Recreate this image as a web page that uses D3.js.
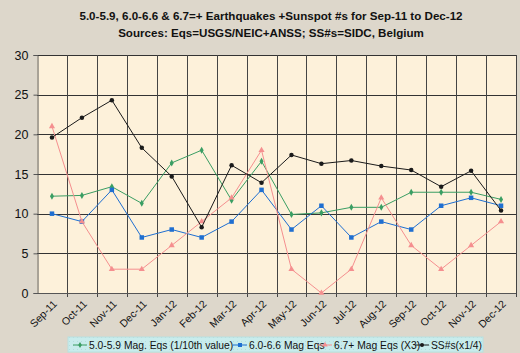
<!DOCTYPE html>
<html>
<head>
<meta charset="utf-8">
<script src="https://cdn.jsdelivr.net/npm/d3@7"></script>
<style>
  body { margin: 0; background: #ddd7cb; }
  svg { display: block; font-family: Arial, "Liberation Sans", sans-serif; }
</style>
</head>
<body>
<script>
// The svg
var width = 520;
var height = 353;

// data
var months = ["Sep-11", "Oct-11", "Nov-11", "Dec-11", "Jan-12", "Feb-12", "Mar-12", "Apr-12",
              "May-12", "Jun-12", "Jul-12", "Aug-12", "Sep-12", "Oct-12", "Nov-12", "Dec-12"];
var mag50 = [12.2, 12.3, 13.4, 11.3, 16.4, 18.0, 11.7, 16.6, 9.9, 10.1, 10.8, 10.8, 12.7, 12.7, 12.7, 11.8];
var mag60 = [10, 9, 13, 7, 8, 7, 9, 13, 8, 11, 7, 9, 8, 11, 12, 11];
var mag67 = [21, 9, 3, 3, 6, 9, 12, 18, 3, 0, 3, 12, 6, 3, 6, 9];
var sunspots = [19.6, 22.1, 24.3, 18.3, 14.7, 8.3, 16.1, 13.9, 17.4, 16.3, 16.7, 16.0, 15.5, 13.4, 15.4, 10.4];
var yTicks = [0, 5, 10, 15, 20, 25, 30];

var seriesList = [
  { name: "5.0-5.9 Mag. Eqs (1/10th value)", values: mag50, color: "#3a9e63", shape: "diamond" },
  { name: "6.0-6.6 Mag Eqs", values: mag60, color: "#1f6fd1", shape: "square" },
  { name: "6.7+ Mag Eqs (X3)", values: mag67, color: "#f58f8f", shape: "triangle" },
  { name: "SS#s(x1/4)", values: sunspots, color: "#1a1a1a", shape: "circle" }
];

var plot = { left: 37, top: 55, right: 516, bottom: 293 };

var svg = d3.select("body").append("svg")
    .attr("width", width)
    .attr("height", height);

// dotted legend fill
var defs = svg.append("defs");
var pat = defs.append("pattern").attr("id", "dots").attr("width", 4).attr("height", 4)
    .attr("patternUnits", "userSpaceOnUse");
pat.append("rect").attr("width", 4).attr("height", 4).attr("fill", "#c8ecec");
pat.append("rect").attr("x", 1).attr("y", 1).attr("width", 1).attr("height", 1).attr("fill", "#b3dede");

svg.append("rect").attr("width", width).attr("height", height).attr("fill", "#ddd7cb");

// title
svg.append("text").attr("x", 271).attr("y", 20).attr("text-anchor", "middle")
    .attr("font-size", "11.6px").attr("font-weight", "bold").attr("fill", "#111")
    .text("5.0-5.9, 6.0-6.6 & 6.7=+ Earthquakes +Sunspot #s for Sep-11 to Dec-12");
svg.append("text").attr("x", 271).attr("y", 37).attr("text-anchor", "middle")
    .attr("font-size", "11.6px").attr("font-weight", "bold").attr("fill", "#111")
    .text("Sources: Eqs=USGS/NEIC+ANSS; SS#s=SIDC, Belgium");

// scales
var x = d3.scaleBand().domain(months).range([plot.left, plot.right]);
var y = d3.scaleLinear().domain([0, 30]).range([plot.bottom, plot.top]);

// plot area
svg.append("rect")
    .attr("x", plot.left).attr("y", plot.top)
    .attr("width", plot.right - plot.left).attr("height", plot.bottom - plot.top)
    .attr("fill", "#fdf1da");

// grid lines
svg.append("g").selectAll("line")
    .data(yTicks)
    .join("line")
    .attr("x1", plot.left).attr("x2", plot.right)
    .attr("y1", d => Math.round(y(d)) + 0.5).attr("y2", d => Math.round(y(d)) + 0.5)
    .attr("stroke", "#333").attr("stroke-width", 1);

var bounds = months.map(m => x(m)).concat([plot.right]);
svg.append("g").selectAll("line")
    .data(bounds.slice(1))
    .join("line")
    .attr("x1", d => Math.round(d) + 0.5).attr("x2", d => Math.round(d) + 0.5)
    .attr("y1", plot.top).attr("y2", plot.bottom + 4)
    .attr("stroke", "#444").attr("stroke-width", 1);

// axes
var yAxis = svg.append("g")
    .attr("transform", "translate(" + (plot.left + 0.5) + ",0)")
    .call(d3.axisLeft(y).tickValues(yTicks).tickSize(4).tickPadding(5));
yAxis.select(".domain").attr("stroke", "#555");
yAxis.selectAll("line").attr("stroke", "#555");
yAxis.selectAll("text").attr("font-size", "12.5px").attr("fill", "#111")
    .attr("font-family", "Arial, 'Liberation Sans', sans-serif");

svg.append("line")
    .attr("x1", plot.left).attr("x2", plot.right)
    .attr("y1", plot.bottom + 0.5).attr("y2", plot.bottom + 0.5)
    .attr("stroke", "#555");

svg.append("g").selectAll("text")
    .data(months)
    .join("text")
    .attr("transform", d => "translate(" + (x(d) + x.bandwidth() / 2 + 3) + "," + (plot.bottom + 9) + ") rotate(-45)")
    .attr("text-anchor", "end")
    .attr("dy", "0.35em")
    .attr("font-size", "10.5px")
    .attr("fill", "#111")
    .text(d => d);

// marker drawing
function drawMarker(g, shape, color, size) {
    if (shape === "circle") {
        g.append("circle").attr("r", size * 0.5).attr("fill", color);
    } else if (shape === "square") {
        g.append("rect").attr("x", -size / 2).attr("y", -size / 2)
            .attr("width", size).attr("height", size).attr("fill", color);
    } else if (shape === "diamond") {
        g.append("path").attr("d", d3.symbol(d3.symbolDiamond, size * size * 0.7)()).attr("fill", color);
    } else {
        g.append("path").attr("d", d3.symbol(d3.symbolTriangle, size * size * 0.8)()).attr("fill", color);
    }
}

var line = d3.line()
    .x((d, i) => x(months[i]) + x.bandwidth() / 2)
    .y(d => y(d));

seriesList.forEach(function (s) {
    svg.append("path")
        .datum(s.values)
        .attr("fill", "none")
        .attr("stroke", s.color)
        .attr("stroke-width", 1)
        .attr("d", line);
    s.values.forEach(function (v, i) {
        var g = svg.append("g")
            .attr("transform", "translate(" + (x(months[i]) + x.bandwidth() / 2) + "," + y(v) + ")");
        drawMarker(g, s.shape, s.color, 4.5);
    });
});

// legend
var legend = svg.append("g");
legend.append("rect")
    .attr("x", 68).attr("y", 337).attr("width", 415).attr("height", 15)
    .attr("fill", "url(#dots)").attr("stroke", "#b9e0e0");

var legendX = [73, 233, 318, 415];
seriesList.forEach(function (s, i) {
    var lx = legendX[i];
    legend.append("line")
        .attr("x1", lx).attr("x2", lx + 14)
        .attr("y1", 345).attr("y2", 345)
        .attr("stroke", s.color);
    var g = legend.append("g").attr("transform", "translate(" + (lx + 7) + ",345)");
    drawMarker(g, s.shape, s.color, 4);
    legend.append("text")
        .attr("x", lx + 16).attr("y", 345).attr("dy", "0.35em")
        .attr("font-size", "10.3px").attr("fill", "#111")
        .text(s.name);
});
</script>
</body>
</html>
